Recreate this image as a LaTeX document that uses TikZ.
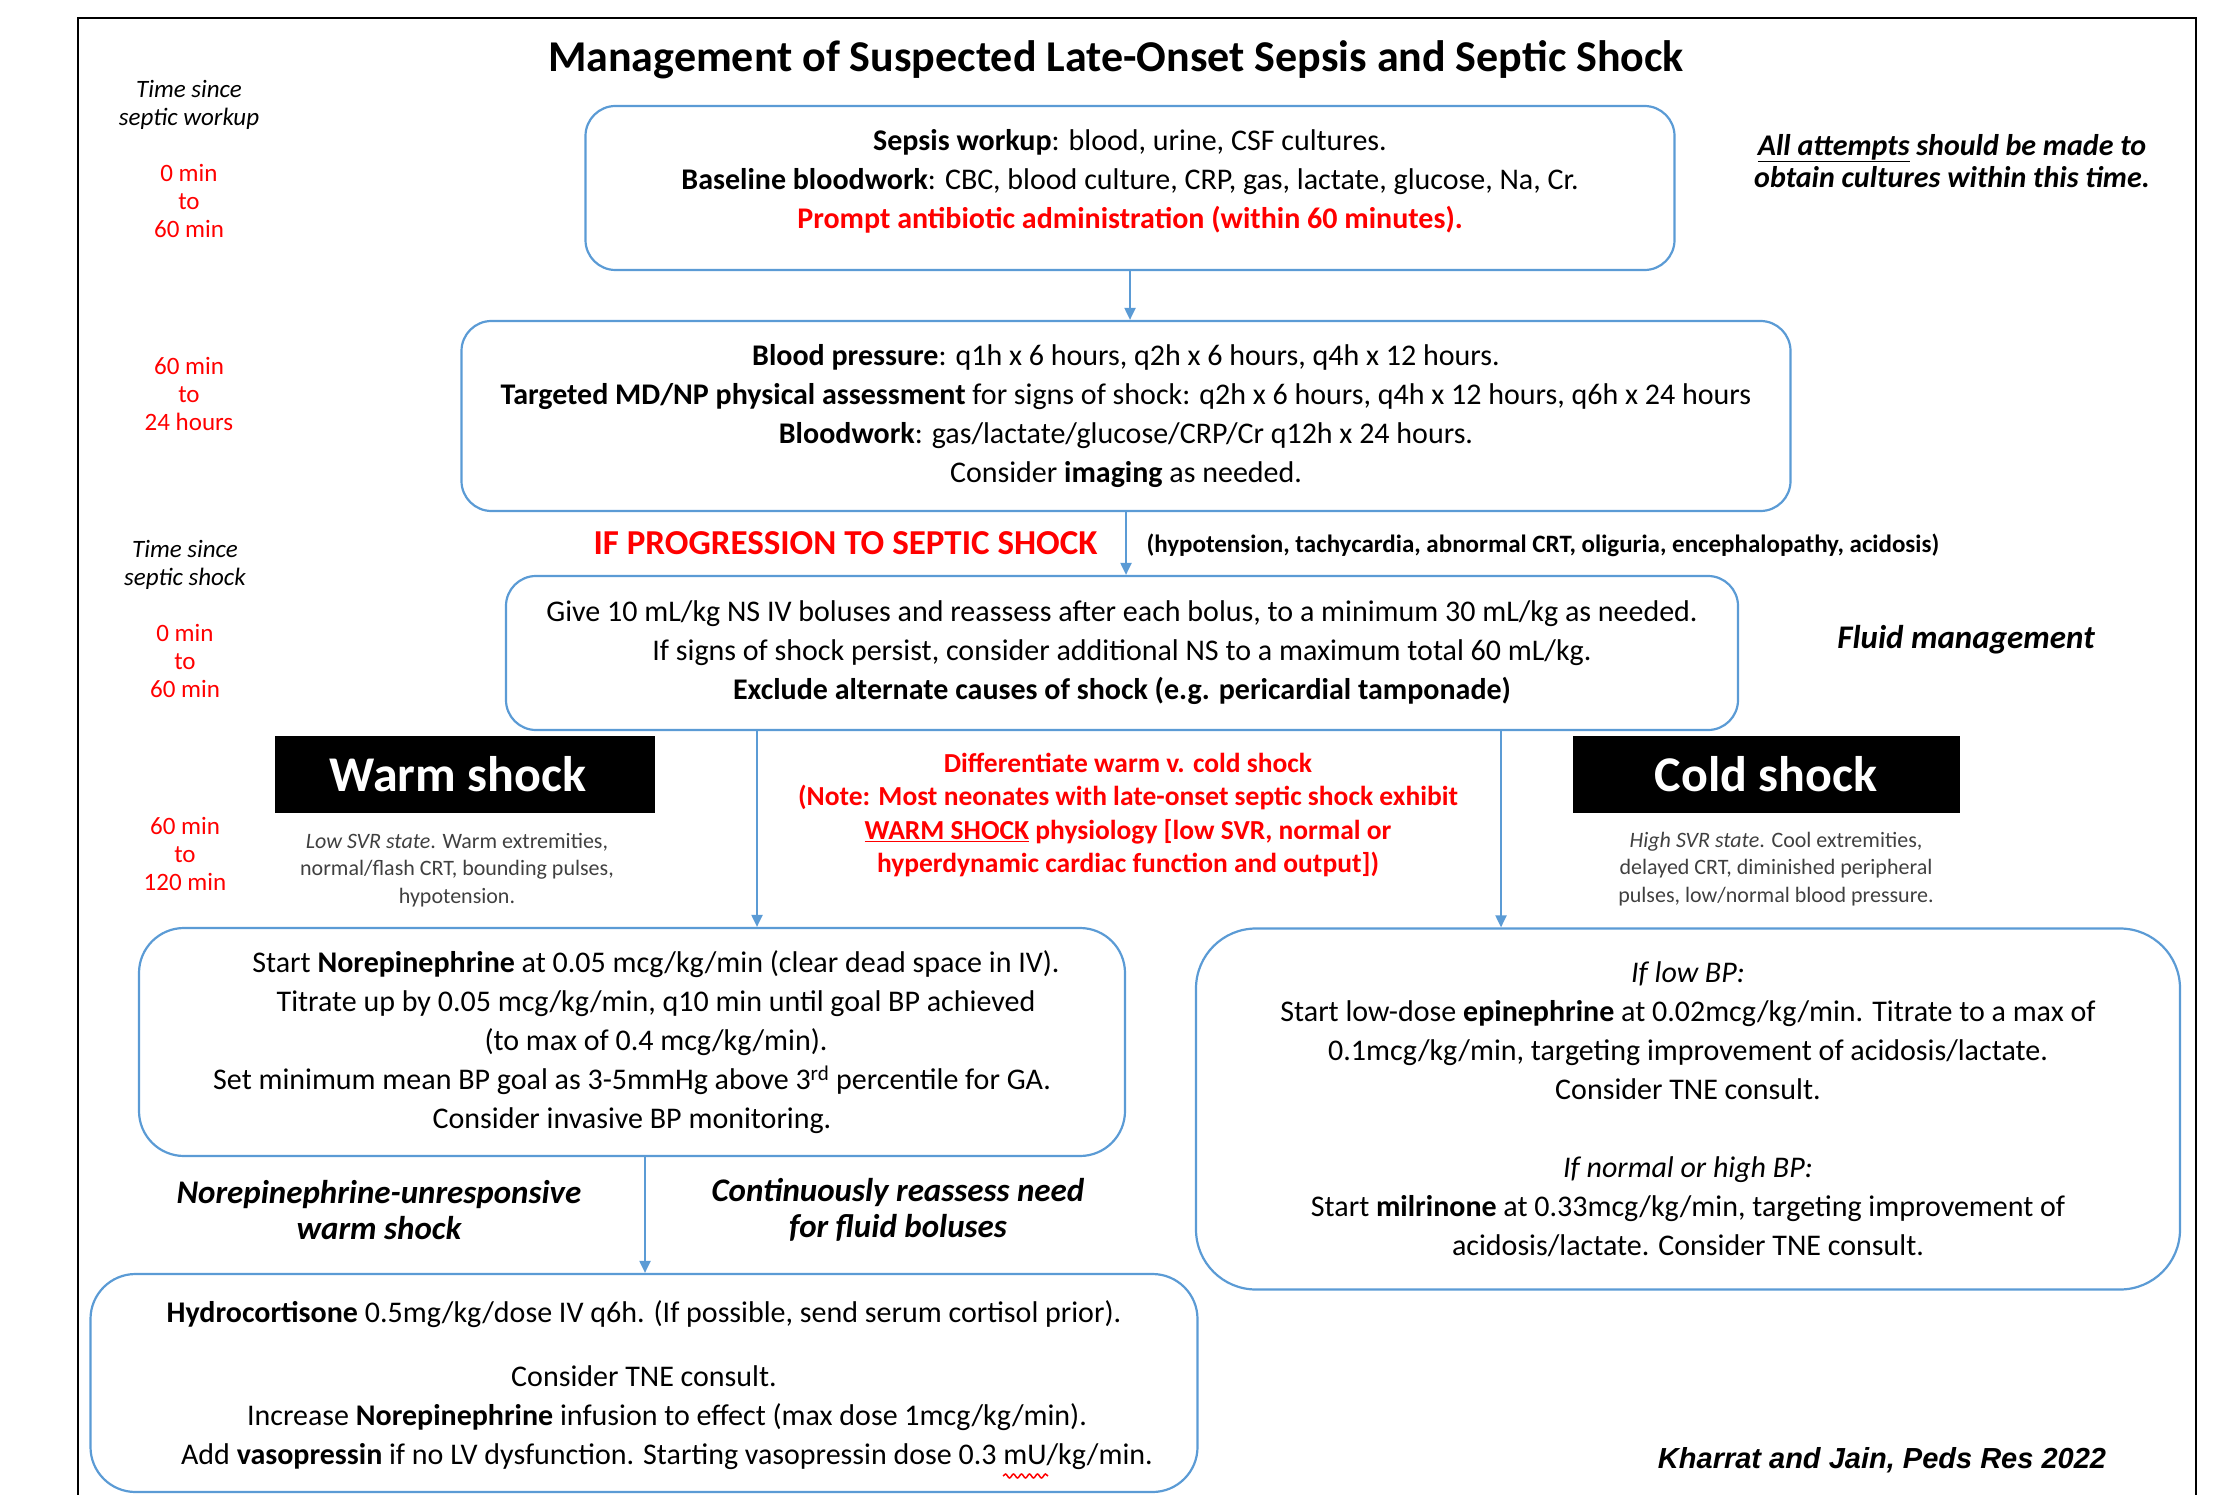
\documentclass[tikz,border=0pt]{standalone}
\usepackage{fontspec}
\setmainfont{Carlito}
\newfontfamily\arialfont{Liberation Sans}
\usetikzlibrary{arrows.meta,positioning,decorations.pathmorphing}
\definecolor{boxblue}{RGB}{91,155,213}
\definecolor{alertred}{RGB}{255,0,0}
\definecolor{descgray}{RGB}{64,64,64}

\tikzset{
  stage/.style={draw=boxblue, line width=2.2pt, rounded corners=30pt, align=center,
                inner sep=0pt, font=\fontsize{30}{39}\selectfont},
  shockhead/.style={fill=black, text=white, inner sep=0pt, font=\fontsize{50}{54}\selectfont\bfseries},
  desc/.style={align=center, text=descgray, font=\fontsize{22}{27.5}\selectfont},
  timelbl/.style={align=center, font=\fontsize{25}{28}\selectfont\itshape},
  timered/.style={align=center, text=alertred, font=\fontsize{25}{28}\selectfont},
  sidenote/.style={align=center, font=\fontsize{33}{36}\selectfont\bfseries\itshape},
  flow/.style={draw=boxblue, line width=2pt, -{Triangle[width=11pt,length=12pt]}},
}

\begin{document}
\begin{tikzpicture}[x=1pt,y=-1pt]
\useasboundingbox (0,0) rectangle (2224,1495);
% frame
\draw[line width=2pt] (78,1495) -- (78,18) -- (2196,18) -- (2196,1495);

\node[font=\fontsize{44}{50}\selectfont\bfseries] (title) at (1116,60)
  {Management of Suspected Late-Onset Sepsis and Septic Shock};

% time column
\node[timelbl] (t-workup) at (189,105) {Time since\\septic workup};
\node[timered] (t-a) at (189,201) {0 min\\to\\60 min};
\node[timered] (t-b) at (189,394) {60 min\\to\\24 hours};
\node[timelbl] (t-shock) at (185,565) {Time since\\septic shock};
\node[timered] (t-c) at (185,661) {0 min\\to\\60 min};
\node[timered] (t-d) at (185,854) {60 min\\to\\120 min};

% workup and monitoring
\node[stage, text depth=19pt, minimum width=1089pt, minimum height=164pt] (workup) at (1130,188)
  {\textbf{Sepsis workup}: blood, urine, CSF cultures.\\
   \textbf{Baseline bloodwork}: CBC, blood culture, CRP, gas, lactate, glucose, Na, Cr.\\
   \textcolor{alertred}{\textbf{Prompt antibiotic administration (within 60 minutes).}}};
\node[sidenote, font=\fontsize{30}{32}\selectfont\bfseries\itshape] (attempts) at (1952,161)
  {\underline{All attempts} should be made to\\obtain cultures within this time.};

\node[stage, minimum width=1329pt, minimum height=190pt] (monitor) at (1126,416)
  {\textbf{Blood pressure}: q1h x 6 hours, q2h x 6 hours, q4h x 12 hours.\\
   \textbf{Targeted MD/NP physical assessment} for signs of shock: q2h x 6 hours, q4h x 12 hours, q6h x 24 hours\\
   \textbf{Bloodwork}: gas/lactate/glucose/CRP/Cr q12h x 24 hours.\\
   Consider \textbf{imaging} as needed.};

\node[anchor=east, text=alertred, font=\fontsize{35}{40}\selectfont\bfseries] (progress) at (1101,543)
  {IF PROGRESSION TO SEPTIC SHOCK};
\node[anchor=west, font=\fontsize{25}{28}\selectfont\bfseries] (signs) at (1143,545)
  {(hypotension, tachycardia, abnormal CRT, oliguria, encephalopathy, acidosis)};

% fluids
\node[stage, minimum width=1232pt, minimum height=154pt] (fluid) at (1122,653)
  {Give 10 mL/kg NS IV boluses and reassess after each bolus, to a minimum 30 mL/kg as needed.\\
   If signs of shock persist, consider additional NS to a maximum total 60 mL/kg.\\
   \textbf{Exclude alternate causes of shock (e.g. pericardial tamponade)}};
\node[sidenote] (fluidmgmt) at (1966,640) {Fluid management};

% warm / cold
\node[shockhead, minimum width=380pt, minimum height=77pt] (warm) at (465,774) {Warm shock\hspace*{14pt}};
\node[desc] (warmdesc) at (457,870)
  {\textit{Low SVR state}. Warm extremities,\\normal/flash CRT, bounding pulses,\\hypotension.};
\node[shockhead, minimum width=387pt, minimum height=77pt] (cold) at (1766,774) {Cold shock};
\node[desc] (colddesc) at (1776,869)
  {\textit{High SVR state}. Cool extremities,\\delayed CRT, diminished peripheral\\pulses, low/normal blood pressure.};

\node[align=center, text=alertred, font=\fontsize{27.5}{33.5}\selectfont\bfseries] (diff) at (1128,815)
  {Differentiate warm v. cold shock\\
   (Note: Most neonates with late-onset septic shock exhibit\\
   \underline{WARM SHOCK} physiology [low SVR, normal or\\
   hyperdynamic cardiac function and output])};

% treatment
\node[stage, rounded corners=45pt, minimum width=986pt, minimum height=228pt] (norepi) at (632,1042)
  {\hspace*{48pt}Start \textbf{Norepinephrine} at 0.05 mcg/kg/min (clear dead space in IV).\\
   \hspace*{48pt}Titrate up by 0.05 mcg/kg/min, q10 min until goal BP achieved\\
   \hspace*{48pt}(to max of 0.4 mcg/kg/min).\\
   Set minimum mean BP goal as 3-5mmHg above 3\textsuperscript{rd} percentile for GA.\\
   Consider invasive BP monitoring.};

\node[stage, rounded corners=60pt, minimum width=984pt, minimum height=361pt] (coldtx) at (1688,1109)
  {\textit{If low BP:}\\
   Start low-dose \textbf{epinephrine} at 0.02mcg/kg/min. Titrate to a max of\\
   0.1mcg/kg/min, targeting improvement of acidosis/lactate.\\
   Consider TNE consult.\\[39pt]
   \textit{If normal or high BP:}\\
   Start \textbf{milrinone} at 0.33mcg/kg/min, targeting improvement of\\
   acidosis/lactate. Consider TNE consult.};

\node[sidenote] (unresp) at (379,1210)
  {Norepinephrine-unresponsive\\warm shock};
\node[sidenote] (reassess) at (898,1210)
  {Continuously reassess need\\for fluid boluses};

\node[stage, text depth=0pt, rounded corners=45pt, minimum width=1107pt, minimum height=218pt] (hydro) at (644,1383)
  {\textbf{Hydrocortisone} 0.5mg/kg/dose IV q6h. (If possible, send serum cortisol prior).\\[25pt]
   Consider TNE consult.\\
   \hspace*{46pt}Increase \textbf{Norepinephrine} infusion to effect (max dose 1mcg/kg/min).\\
   \hspace*{46pt}Add \textbf{vasopressin} if no LV dysfunction. Starting vasopressin dose 0.3 mU/kg/min.};
\draw[alertred, line width=1.5pt, decorate, decoration={snake, amplitude=2pt, segment length=8pt}]
  (1003,1476) -- (1048,1476);

\node[font=\arialfont\fontsize{29}{32}\selectfont\bfseries\itshape] (cite) at (1882,1460)
  {Kharrat and Jain, Peds Res 2022};

% connectors
\coordinate (fl-warm) at ([xshift=-365pt]fluid.south);
\coordinate (fl-cold) at ([xshift=379pt]fluid.south);
\draw[flow] (workup.south) -- (workup.south |- monitor.north);
\draw[flow] (monitor.south) -- (monitor.south |- fluid.north);
\draw[flow] (fl-warm) -- (fl-warm |- norepi.north);
\draw[flow] (fl-cold) -- (fl-cold |- coldtx.north);
\draw[flow] ([xshift=13pt]norepi.south) -- ([xshift=13pt]norepi.south |- hydro.north);
\end{tikzpicture}
\end{document}
